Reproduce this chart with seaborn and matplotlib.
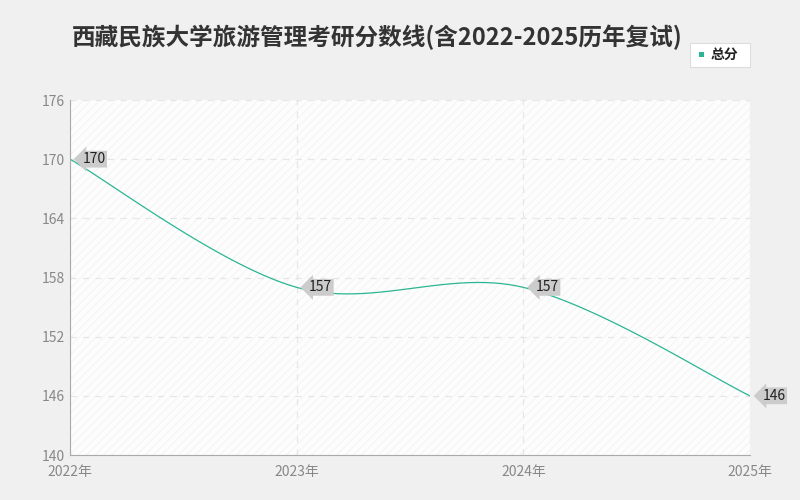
import numpy as np
import matplotlib
matplotlib.use("Agg")
import matplotlib.pyplot as plt
import seaborn as sns
from matplotlib.patches import Rectangle

years = ["2022年", "2023年", "2024年", "2025年"]
scores = [170, 157, 157, 146]
yticks = [140, 146, 152, 158, 164, 170, 176]

sns.set_style("white")
plt.rcParams['font.family'] = ['Noto Sans CJK SC', 'DejaVu Sans']

fig = plt.figure(figsize=(8, 5), dpi=100, facecolor="#f0f0f0")
ax = fig.add_axes([70/800, 45/500, 680/800, 355/500])
ax.set_facecolor("#fdfdfd")
ax.add_patch(Rectangle((0, 0), 1, 1, transform=ax.transAxes, fill=False,
                       hatch="////", edgecolor="#f6f6f6", lw=0, zorder=0))

x = np.arange(len(scores), dtype=float)
y = np.array(scores, dtype=float)
# Catmull-Rom rendering of the line through the data points
xs, ys = [], []
for i in range(len(x) - 1):
    p0 = np.array([x[max(i-1, 0)], y[max(i-1, 0)]])
    p1 = np.array([x[i], y[i]]); p2 = np.array([x[i+1], y[i+1]])
    p3 = np.array([x[min(i+2, len(x)-1)], y[min(i+2, len(x)-1)]])
    c1 = p1 + (p2 - p0) / 6; c2 = p2 - (p3 - p1) / 6
    t = np.linspace(0, 1, 40)[:, None]
    b = (1-t)**3*p1 + 3*(1-t)**2*t*c1 + 3*(1-t)*t**2*c2 + t**3*p2
    xs.extend(b[:, 0]); ys.extend(b[:, 1])
sns.lineplot(x=xs, y=ys, ax=ax, color="#2bb594", lw=0.9, sort=False)

for xi, yi in zip(x, y):
    ax.annotate(f"{int(yi)}", (xi, yi), xytext=(9, 0), textcoords="offset points",
                va="center", ha="left", fontsize=10, color="#222",
                bbox=dict(boxstyle="larrow,pad=0.1", fc="#cccccc", ec="none"),
                annotation_clip=False)

ax.set_xlim(0, 3)
ax.set_ylim(140, 176)
ax.set_yticks(yticks)
ax.set_xticks(x)
ax.set_xticklabels(years)
ax.tick_params(colors="#888888", labelsize=10, length=4)
ax.tick_params(axis="y", length=0)
ax.grid(True, ls=(0, (5, 5)), color="#e6e6e6", lw=0.9)
for s in ["top", "right"]:
    ax.spines[s].set_visible(False)
ax.spines["left"].set_color("#aaaaaa")
ax.spines["bottom"].set_color("#aaaaaa")

fig.text(72/800, 1 - 37/500, "西藏民族大学旅游管理考研分数线(含2022-2025历年复试)",
         fontsize=17, fontweight="bold", color="#333", va="center")
fig.patches.append(Rectangle((690/800, 1-67/500), 60/800, 24/500, transform=fig.transFigure,
                             fc="white", ec="#dddddd", lw=0.8))
fig.patches.append(Rectangle((699/800, 1-57/500), 5/800, 5/500, transform=fig.transFigure,
                             fc="#2bb594", ec="none"))
fig.text(711/800, 1-55/500, "总分", fontsize=10, color="#222", va="center", fontweight="bold")

fig.savefig("out.png", dpi=100, facecolor=fig.get_facecolor())
